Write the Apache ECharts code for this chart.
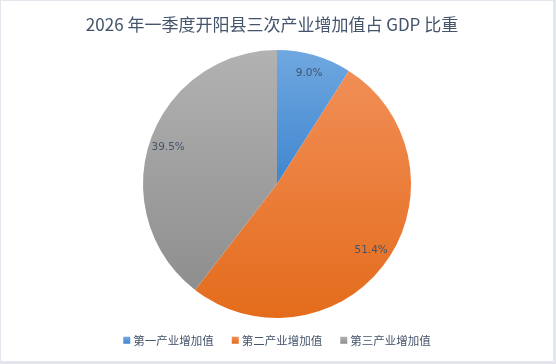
<!DOCTYPE html>
<html>
<head>
<meta charset="utf-8">
<script src="https://cdn.jsdelivr.net/npm/echarts@6/dist/echarts.min.js"></script>
<style>
html,body{margin:0;padding:0;background:#fff;}
#c{box-sizing:border-box;width:556px;height:364px;border-left:1px solid #E3E6EC;border-top:1px solid #E3E6EC;border-right:3px solid #E3E6EC;border-bottom:3px solid #E3E6EC;}
</style>
</head>
<body>
<div id="c"></div>
<script>
const titleText = '2026 年一季度开阳县三次产业增加值占 GDP 比重';
const categories = ['第一产业增加值', '第二产业增加值', '第三产业增加值'];
const values = [9.0, 51.4, 39.5];
const topColors = ['#70A8E0', '#F18E56', '#B2B2B2'];
const bottomColors = ['#3F86CF', '#E46C1C', '#8E8E8E'];

function grad(i){
  return new echarts.graphic.LinearGradient(0,0,0,1,[
    {offset:0,color:topColors[i]},{offset:1,color:bottomColors[i]}
  ]);
}
const chart = echarts.init(document.getElementById('c'));
const pieData = categories.map((n,i)=>({name:n,value:values[i],itemStyle:{color:grad(i)}}));
const labelData = categories.map((n,i)=>({name:n,value:values[i]}));
chart.setOption({
  backgroundColor:'#fff',
  animation:false,
  title:{text:titleText,left:266,top:10,textAlign:'center',
    textStyle:{fontFamily:'Noto Sans CJK SC',fontSize:17,fontWeight:'normal',color:'#44546A'}},
  legend:{bottom:10,left:'center',itemWidth:7,itemHeight:7,itemGap:18,icon:'rect',
    data:categories,
    textStyle:{fontFamily:'Noto Sans CJK SC',fontSize:11.5,color:'#44546A',padding:[0,0,0,-2]}},
  series:[
    {type:'pie',center:[276,183],radius:[0,134],startAngle:90,clockwise:true,
      label:{show:false},labelLine:{show:false},
      itemStyle:{borderWidth:0},
      emphasis:{disabled:true},
      data:pieData},
    {type:'pie',center:[276,183],radius:[90,134],startAngle:90,clockwise:true,
      silent:true,legendHoverLink:false,
      itemStyle:{color:'rgba(0,0,0,0)',borderWidth:0},
      label:{show:true,position:'inside',formatter:p=>p.value.toFixed(1)+'%',
        fontFamily:'DejaVu Sans',fontSize:10.5,color:'#44546A'},
      labelLine:{show:false},
      emphasis:{disabled:true},
      data:labelData}
  ]
});
</script>
</body>
</html>
